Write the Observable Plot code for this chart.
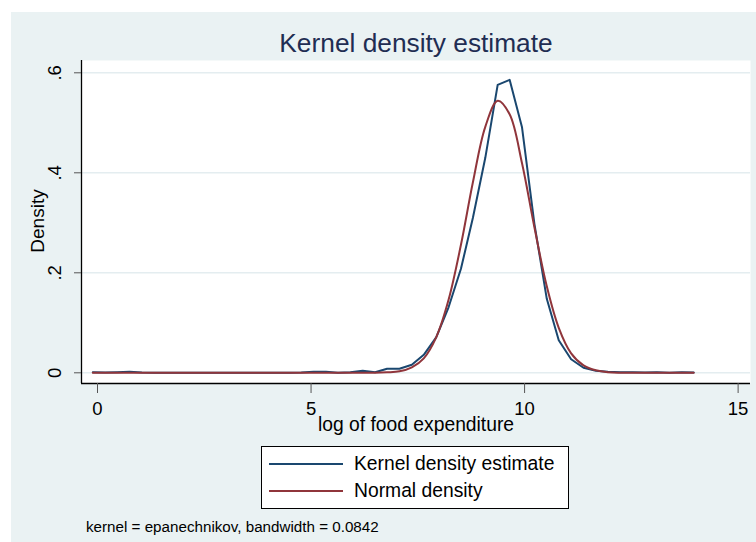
<!DOCTYPE html>
<html>
<head>
<meta charset="utf-8">
<script src="https://cdn.jsdelivr.net/npm/d3@7"></script>
<script src="https://cdn.jsdelivr.net/npm/@observablehq/plot@0.6"></script>
<style>
  body { margin: 0; background: #ffffff; }
  #wrap { position: relative; width: 756px; height: 542px; overflow: hidden; background: #ffffff;
          font-family: "Liberation Sans", Arial, sans-serif; color: #000; }
  #region { position: absolute; left: 11px; top: 12px; right: 0; bottom: 0; background: #EAF2F3; }
  #chart { position: absolute; left: 0; top: 0; }
  .t { position: absolute; white-space: nowrap; line-height: 1; }
  #legend { position: absolute; left: 261px; top: 446px; width: 308px; height: 63px; box-sizing: border-box;
            border: 1px solid #000; background: #fff; }
</style>
</head>
<body>
<div id="wrap">
  <div id="region"></div>
  <div id="chart"></div>
</div>
<script>
// ---- data ----
const titleText = "Kernel density estimate";
const xLabel = "log of food expenditure";
const yLabel = "Density";
const noteText = "kernel = epanechnikov, bandwidth = 0.0842";
const seriesNames = ["Kernel density estimate", "Normal density"];
const seriesColors = ["#1A476F", "#90353B"];
const xTicks = [0, 5, 10, 15];
const xTickLabels = ["0", "5", "10", "15"];
const yTicks = [0, 0.2, 0.4, 0.6];
const yTickLabels = ["0", ".2", ".4", ".6"];

const gridX = [-0.11, 0.18, 0.46, 0.75, 1.04, 1.33, 1.61, 1.90, 2.19, 2.47,
  2.76, 3.05, 3.34, 3.62, 3.91, 4.20, 4.49, 4.77, 5.06, 5.35,
  5.63, 5.92, 6.21, 6.50, 6.78, 7.07, 7.36, 7.64, 7.93, 8.22,
  8.51, 8.79, 9.08, 9.37, 9.65, 9.94, 10.23, 10.52, 10.80, 11.09,
  11.38, 11.67, 11.95, 12.24, 12.53, 12.82, 13.10, 13.39, 13.68, 13.96];

const kdeY = [0.001, 0.0005, 0.001, 0.002, 0.0005, 0, 0, 0, 0, 0,
  0, 0, 0, 0, 0, 0, 0, 0.0005, 0.002, 0.002,
  0, 0.001, 0.004, 0.001, 0.008, 0.008, 0.016, 0.036, 0.071, 0.131,
  0.208, 0.310, 0.430, 0.576, 0.586, 0.491, 0.298, 0.148, 0.065, 0.027,
  0.010, 0.004, 0.002, 0.001, 0.001, 0.0005, 0.001, 0, 0.001, 0.0005];

const normalY = [0, 0, 0, 0, 0, 0, 0, 0, 0, 0,
  0, 0, 0, 0, 0, 0, 0, 0, 0, 0,
  0, 0, 0, 0, 0.001, 0.003, 0.011, 0.029, 0.071, 0.146,
  0.256, 0.381, 0.492, 0.544, 0.517, 0.419, 0.291, 0.173, 0.090, 0.039,
  0.015, 0.005, 0.001, 0, 0, 0, 0, 0, 0, 0];

// ---- build ----
const kdeRows = gridX.map((x, i) => ({x, y: kdeY[i]}));
const normRows = gridX.map((x, i) => ({x, y: normalY[i]}));
const xDomain = [-0.375, 15.29];
const yDomain = [-0.0214, 0.6246];
const font = '"Liberation Sans", Arial, sans-serif';

const chart = Plot.plot({
  width: 756, height: 542,
  marginLeft: 81, marginRight: 6, marginTop: 60, marginBottom: 159,
  x: {domain: xDomain},
  y: {domain: yDomain},
  style: {background: "transparent", fontFamily: font, fontSize: "18px", color: "#000", overflow: "visible"},
  marks: [
    Plot.frame({fill: "white", stroke: "none"}),
    Plot.ruleY(yTicks, {stroke: "#E4EDF0", strokeWidth: 1.5}),
    Plot.line(kdeRows, {x: "x", y: "y", stroke: seriesColors[0], strokeWidth: 2}),
    Plot.line(normRows, {x: "x", y: "y", stroke: seriesColors[1], strokeWidth: 2, curve: "catmull-rom"}),
    Plot.ruleX([xDomain[0]], {stroke: "#000", strokeWidth: 1.3}),
    Plot.ruleY([yDomain[0]], {stroke: "#000", strokeWidth: 1.3}),
    Plot.axisX(xTicks, {tickSize: 10, tickPadding: 8, stroke: "#555", fill: "#000", fontSize: 18.5,
      tickFormat: d => xTickLabels[xTicks.indexOf(d)], label: null}),
    Plot.axisY(yTicks, {tickSize: 7, tickPadding: 19, tickRotate: -90, textAnchor: "middle", lineAnchor: "middle",
      stroke: "#555", fill: "#000", fontSize: 18.5,
      tickFormat: d => yTickLabels[yTicks.indexOf(d)], label: null})
  ]
});
document.getElementById("chart").appendChild(chart);

const wrap = document.getElementById("wrap");
function addText(txt, css) {
  const d = document.createElement("div");
  d.className = "t";
  d.textContent = txt;
  Object.assign(d.style, css);
  wrap.appendChild(d);
  return d;
}
addText(titleText, {left: "416px", top: "43px", fontSize: "26.3px", color: "#1F2D52", transform: "translate(-50%,-50%)"});
addText(xLabel, {left: "416px", top: "425px", fontSize: "19.3px", transform: "translate(-50%,-50%)"});
addText(yLabel, {left: "37px", top: "221px", fontSize: "19px", transform: "translate(-50%,-50%) rotate(-90deg)"});
addText(noteText, {left: "86px", top: "527px", fontSize: "15.2px", transform: "translate(0,-50%)"});

// legend
const leg = document.createElement("div");
leg.id = "legend";
wrap.appendChild(leg);
const rowY = [17, 44];
seriesNames.forEach((name, i) => {
  const s = document.createElementNS("http://www.w3.org/2000/svg", "svg");
  s.setAttribute("width", "80"); s.setAttribute("height", "6");
  s.style.position = "absolute"; s.style.left = "7px"; s.style.top = (rowY[i] - 3) + "px";
  const l = document.createElementNS("http://www.w3.org/2000/svg", "line");
  l.setAttribute("x1", "0"); l.setAttribute("x2", "74"); l.setAttribute("y1", "3"); l.setAttribute("y2", "3");
  l.setAttribute("stroke", seriesColors[i]); l.setAttribute("stroke-width", "2");
  s.appendChild(l); leg.appendChild(s);
  const t = document.createElement("div");
  t.className = "t"; t.textContent = name;
  Object.assign(t.style, {left: "92px", top: rowY[i] + "px", fontSize: "19.3px", transform: "translate(0,-50%)"});
  leg.appendChild(t);
});
</script>
</body>
</html>
